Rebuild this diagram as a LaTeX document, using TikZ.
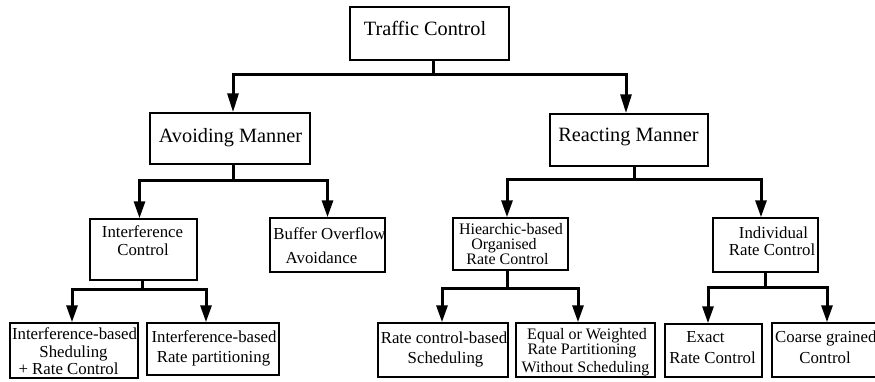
\documentclass[tikz,border=0pt]{standalone}
\usepackage{fontspec}
\setmainfont{Liberation Serif}
\newfontfamily\tmsfont{Liberation Serif}
\usetikzlibrary{arrows.meta}
\begin{document}
\begin{tikzpicture}[x=1pt,y=-1pt,
  box/.style={draw=black,line width=1.5pt,inner sep=0pt,rectangle},
  conn/.style={draw=black,line width=3pt,line join=miter},
  arr/.style={-{Triangle[length=19pt,width=11pt]}},
  arrs/.style={-{Triangle[length=17pt,width=11pt]}},
  big/.style={inner sep=0pt,anchor=base,font=\tmsfont\fontsize{20.3}{24}\selectfont},
  sm/.style={inner sep=0pt,anchor=base,font=\tmsfont\fontsize{16.8}{19}\selectfont},
  smt/.style={inner sep=0pt,anchor=base,font=\tmsfont\fontsize{16}{18}\selectfont}]
\useasboundingbox (0,0) rectangle (875,381);
\fill[white] (0,0) rectangle (875,381);
% boxes
\node[box,minimum width=159pt,minimum height=53pt] (tc) at (429.5,33.5) {};
\node[box,minimum width=160pt,minimum height=51pt] (am) at (230,138.5) {};
\node[box,minimum width=158pt,minimum height=52pt] (rm) at (629,140) {};
\node[box,minimum width=107pt,minimum height=61pt] (ic) at (143.5,249.5) {};
\node[box,minimum width=115pt,minimum height=54pt] (bo) at (327.5,245) {};
\node[box,minimum width=115pt,minimum height=52pt] (hb) at (510.5,244) {};
\node[box,minimum width=105pt,minimum height=54pt] (ir) at (765.5,245) {};
\node[box,minimum width=128pt,minimum height=55pt] (is) at (74,350.5) {};
\node[box,minimum width=132pt,minimum height=52pt] (ip) at (213,349) {};
\node[box,minimum width=130pt,minimum height=54pt] (rc) at (443,350) {};
\node[box,minimum width=139pt,minimum height=54pt] (eq) at (585.5,350) {};
\node[box,minimum width=97pt,minimum height=53pt] (ex) at (713.5,350.5) {};
\node[box,minimum width=110pt,minimum height=54pt] (cg) at (827,350) {};
% texts
\node[big] (tct) at (425,35) {Traffic Control};
\node[big] (amt) at (230.5,142) {Avoiding Manner};
\node[big] (rmt) at (628.5,141) {Reacting Manner};
\node[sm] (ic1) at (142.5,237) {Interference};
\node[sm] (ic2) at (143,255) {Control};
\node[sm] (bo1) at (329.5,239) {Buffer Overflow};
\node[sm] (bo2) at (321.5,263) {Avoidance};
\node[smt] (hb1) at (511,234.5) {Hiearchic-based};
\node[smt] (hb2) at (504,249) {Organised};
\node[smt] (hb3) at (507.5,264) {Rate Control};
\node[sm] (ir1) at (773.5,238) {Individual};
\node[sm] (ir2) at (772,255) {Rate Control};
\node[sm] (is1) at (74.5,339) {Interference-based};
\node[sm] (is2) at (73.5,357) {Sheduling};
\node[sm] (is3) at (68.5,374) {+ Rate Control};
\node[sm] (ip1) at (214,342) {Interference-based};
\node[sm] (ip2) at (213.5,362) {Rate partitioning};
\node[sm] (rc1) at (444,343) {Rate control-based};
\node[sm] (rc2) at (445.5,363) {Scheduling};
\node[smt] (eq1) at (587,339) {Equal or Weighted};
\node[smt] (eq2) at (582,354) {Rate Partitioning};
\node[smt] (eq3) at (585.5,372) {Without Scheduling};
\node[sm] (ex1) at (705.5,342) {Exact};
\node[sm] (ex2) at (712.5,363) {Rate Control};
\node[sm,anchor=base west] (cg1) at (775,342) {Coarse grained};
\node[sm] (cg2) at (825,363) {Control};
% junctions
\coordinate (j0) at (433,74);
\coordinate (j1) at (233,180);
\coordinate (j2) at (634,179);
\coordinate (j3) at (142,289);
\coordinate (j4) at (507,288);
\coordinate (j5) at (765,287);
% connectors
\draw[conn] (j0 |- tc.south) -- (j0);
\draw[conn,arr] (j0) -| ([xshift=3pt]am.north);
\draw[conn,arr] (j0) -| ([xshift=-3pt]rm.north);
\draw[conn] (j1 |- am.south) -- (j1);
\draw[conn,arrs] (j1) -| ([xshift=-4pt]ic.north);
\draw[conn,arrs] (j1) -| (bo.north);
\draw[conn] (j2 |- rm.south) -- (j2);
\draw[conn,arrs] (j2) -| ([xshift=-3.5pt]hb.north);
\draw[conn,arrs] (j2) -| ([xshift=-4.5pt]ir.north);
\draw[conn] (j3 |- ic.south) -- (j3);
\draw[conn,arrs] (j3) -| ([xshift=-2pt]is.north);
\draw[conn,arrs] (j3) -| ([xshift=-7pt]ip.north);
\draw[conn] (j4 |- hb.south) -- (j4);
\draw[conn,arrs] (j4) -| ([xshift=-1pt]rc.north);
\draw[conn,arrs] (j4) -| ([xshift=-7.5pt]eq.north);
\draw[conn] (j5 |- ir.south) -- (j5);
\draw[conn,arrs] (j5) -| ([xshift=-5.5pt]ex.north);
\draw[conn,arrs] (j5) -| (cg.north);
\end{tikzpicture}
\end{document}
